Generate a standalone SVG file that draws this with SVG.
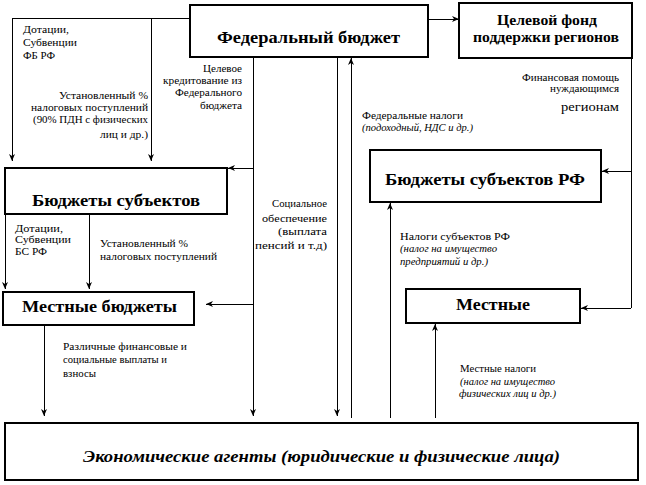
<svg xmlns="http://www.w3.org/2000/svg" width="646" height="485" viewBox="0 0 646 485" font-family="'Liberation Serif', 'DejaVu Serif', serif">
<defs>
<marker id="ah" markerUnits="userSpaceOnUse" markerWidth="8" markerHeight="6" refX="7" refY="3" orient="auto">
<path d="M0,0 L7,3 L0,6 L2,3 z" fill="#000"/>
</marker>
<style>
.box{fill:#fff;stroke:#000;stroke-width:1.3;shape-rendering:crispEdges}
.ln{fill:none;stroke:#000;stroke-width:1;shape-rendering:crispEdges}
.ar{fill:none;stroke:#000;stroke-width:1;marker-end:url(#ah);shape-rendering:crispEdges}
text{fill:#000}
.t{font-size:10px}
.i{font-style:italic}
.r{text-anchor:end}
.b{font-weight:bold}
</style>
</defs>
<rect width="646" height="485" fill="#fff"/>
<g id="connectors">
<polyline class="ln" points="190,18 12,18"/>
<line class="ar" x1="12" y1="18" x2="12" y2="161"/>
<line class="ar" x1="151" y1="18" x2="151" y2="161"/>
<line class="ar" x1="428" y1="19" x2="459" y2="19"/>
<line class="ln" x1="253" y1="57" x2="253" y2="304"/>
<line class="ar" x1="253" y1="168" x2="228" y2="168"/>
<line class="ar" x1="253" y1="304" x2="206" y2="304"/>
<line class="ar" x1="253" y1="304" x2="253" y2="416"/>
<line class="ar" x1="5" y1="214" x2="5" y2="289"/>
<line class="ar" x1="89" y1="214" x2="89" y2="289"/>
<line class="ar" x1="44" y1="325" x2="44" y2="416"/>
<line class="ar" x1="337" y1="57" x2="337" y2="416"/>
<line class="ar" x1="351" y1="418" x2="351" y2="58"/>
<line class="ar" x1="390" y1="418" x2="390" y2="203"/>
<line class="ar" x1="435" y1="418" x2="435" y2="324"/>
<line class="ln" x1="631" y1="58" x2="631" y2="308"/>
<line class="ar" x1="631" y1="171" x2="602" y2="171"/>
<line class="ar" x1="631" y1="308" x2="581" y2="308"/>
</g>
<g id="fed">
<rect class="box" x="190" y="5" width="238" height="52"/>
<text class="b" x="217" y="43" font-size="17" textLength="183" lengthAdjust="spacingAndGlyphs">Федеральный бюджет</text>
</g>
<g id="fund">
<rect class="box" x="459" y="3" width="173" height="55"/>
<text class="b" x="497" y="25" font-size="14" textLength="100" lengthAdjust="spacingAndGlyphs">Целевой фонд</text>
<text class="b" x="473" y="42" font-size="14" textLength="146" lengthAdjust="spacingAndGlyphs">поддержки регионов</text>
</g>
<g id="subj">
<rect class="box" x="5" y="168" width="222" height="46"/>
<text class="b" x="32" y="206" font-size="16" textLength="168" lengthAdjust="spacingAndGlyphs">Бюджеты субъектов</text>
</g>
<g id="subjrf">
<rect class="box" x="370" y="150" width="231" height="52"/>
<text class="b" x="385" y="185" font-size="16" textLength="200" lengthAdjust="spacingAndGlyphs">Бюджеты субъектов РФ</text>
</g>
<g id="local">
<rect class="box" x="3" y="292" width="191" height="33"/>
<text class="b" x="22" y="312" font-size="16" textLength="155" lengthAdjust="spacingAndGlyphs">Местные бюджеты</text>
</g>
<g id="local2">
<rect class="box" x="406" y="289" width="174" height="34"/>
<text class="b" x="456" y="310" font-size="16" textLength="74" lengthAdjust="spacingAndGlyphs">Местные</text>
</g>
<g id="agents">
<rect class="box" x="5" y="423" width="633" height="57"/>
<text class="b i" x="83" y="462" font-size="17" textLength="477" lengthAdjust="spacingAndGlyphs">Экономические агенты (юридические и физические лица)</text>
</g>
<g id="labels">
<text class="t" x="23" y="33" textLength="46" lengthAdjust="spacingAndGlyphs">Дотации,</text>
<text class="t" x="23" y="46" textLength="54" lengthAdjust="spacingAndGlyphs">Субвенции</text>
<text class="t" x="23" y="59" textLength="32" lengthAdjust="spacingAndGlyphs">ФБ РФ</text>
<text class="t r" x="148" y="99" textLength="89" lengthAdjust="spacingAndGlyphs">Установленный %</text>
<text class="t r" x="148" y="111" textLength="117" lengthAdjust="spacingAndGlyphs">налоговых поступлений</text>
<text class="t r" x="148" y="123" textLength="115" lengthAdjust="spacingAndGlyphs">(90% ПДН с физических</text>
<text class="t r" x="148" y="138" textLength="48" lengthAdjust="spacingAndGlyphs">лиц и др.)</text>
<text class="t r" x="242" y="72" textLength="39" lengthAdjust="spacingAndGlyphs">Целевое</text>
<text class="t r" x="242" y="84" textLength="79" lengthAdjust="spacingAndGlyphs">кредитование из</text>
<text class="t r" x="242" y="96" textLength="67" lengthAdjust="spacingAndGlyphs">Федерального</text>
<text class="t r" x="242" y="109" textLength="42" lengthAdjust="spacingAndGlyphs">бюджета</text>
<text class="t r" x="619" y="81" textLength="97" lengthAdjust="spacingAndGlyphs">Финансовая помощь</text>
<text class="t r" x="619" y="92" textLength="69" lengthAdjust="spacingAndGlyphs">нуждающимся</text>
<text class="r" x="619" y="111" style="font-size:13px" textLength="58" lengthAdjust="spacingAndGlyphs">регионам</text>
<text class="t" x="362" y="119" textLength="101" lengthAdjust="spacingAndGlyphs">Федеральные налоги</text>
<text class="t i" x="362" y="131" textLength="111" lengthAdjust="spacingAndGlyphs">(подоходный, НДС и др.)</text>
<text class="t" x="15" y="232" textLength="48" lengthAdjust="spacingAndGlyphs">Дотации,</text>
<text class="t" x="15" y="243" textLength="56" lengthAdjust="spacingAndGlyphs">Субвенции</text>
<text class="t" x="15" y="255" textLength="32" lengthAdjust="spacingAndGlyphs">БС РФ</text>
<text class="t" x="100" y="247" textLength="88" lengthAdjust="spacingAndGlyphs">Установленный %</text>
<text class="t" x="100" y="260" textLength="117" lengthAdjust="spacingAndGlyphs">налоговых поступлений</text>
<text class="t r" x="327" y="207" textLength="55" lengthAdjust="spacingAndGlyphs">Социальное</text>
<text class="t r" x="327" y="222" textLength="65" lengthAdjust="spacingAndGlyphs">обеспечение</text>
<text class="t r" x="327" y="235" textLength="49" lengthAdjust="spacingAndGlyphs">(выплата</text>
<text class="t r" x="327" y="249" textLength="72" lengthAdjust="spacingAndGlyphs">пенсий и т.д)</text>
<text class="t" x="400" y="240" textLength="110" lengthAdjust="spacingAndGlyphs">Налоги субъектов РФ</text>
<text class="t i" x="400" y="252" textLength="97" lengthAdjust="spacingAndGlyphs">(налог на имущество</text>
<text class="t i" x="400" y="265" textLength="88" lengthAdjust="spacingAndGlyphs">предприятий и др.)</text>
<text class="t" x="63" y="350" textLength="124" lengthAdjust="spacingAndGlyphs">Различные финансовые и</text>
<text class="t" x="63" y="363" textLength="104" lengthAdjust="spacingAndGlyphs">социальные выплаты и</text>
<text class="t" x="63" y="377" textLength="33" lengthAdjust="spacingAndGlyphs">взносы</text>
<text class="t" x="460" y="372" textLength="76" lengthAdjust="spacingAndGlyphs">Местные налоги</text>
<text class="t i" x="460" y="385" textLength="95" lengthAdjust="spacingAndGlyphs">(налог на имущество</text>
<text class="t i" x="459" y="397" textLength="97" lengthAdjust="spacingAndGlyphs">физических лиц и др.)</text>
</g>
</svg>
